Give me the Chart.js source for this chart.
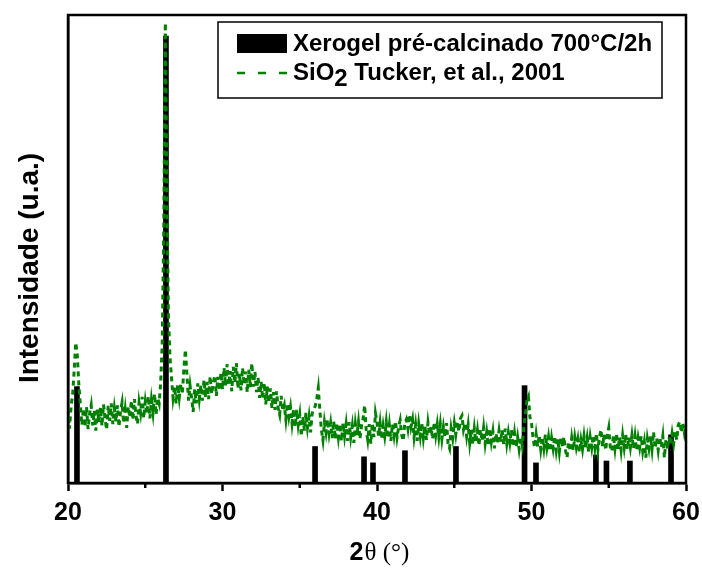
<!DOCTYPE html>
<html>
<head>
  <title>DRX - Xerogel pré-calcinado 700°C/2h</title>
  <style>
    body { margin: 0; background: #fff; }
    canvas { display: block; }
  </style>
</head>
<body>
  <canvas id="drx" width="702" height="572"></canvas>

  <script src="https://cdn.jsdelivr.net/npm/chart.js"></script>
  <script>
    // reference sticks: 2θ position and relative height
    const stickAngles  = [20.58, 26.34, 35.99, 39.16, 39.74, 41.81, 45.11, 49.55, 50.29, 54.17, 54.85, 56.37, 59.03];
    const stickHeights = [20.6, 95.5, 7.8, 5.6, 4.3, 6.9, 7.8, 20.8, 4.3, 6.0, 4.7, 4.7, 10.3];

    // measured scan, 0.1° steps starting at 20°
    const scanStart = 20;
    const scanStep = 0.1;
    const scanCounts = [
      15.8, 11.6, 16.4, 19.0, 24.0, 30.0, 27.5, 21.0, 16.8, 12.4, 15.9, 12.0, 16.2, 11.5, 14.8, 16.6, 12.3, 15.4, 11.2, 15.7,
      13.0, 16.1, 12.2, 16.8, 13.6, 11.4, 16.5, 13.3, 17.0, 12.6, 15.9, 13.1, 16.6, 12.0, 15.4, 17.2, 12.8, 15.6, 11.8, 16.3,
      14.0, 17.6, 13.5, 17.9, 14.4, 12.6, 17.2, 15.0, 18.4, 13.9, 17.3, 14.8, 18.5, 13.8, 17.7, 15.0, 19.0, 14.6, 18.2, 17.0,
      21.5, 30.0, 55.0, 98.3, 62.0, 36.0, 27.0, 22.5, 18.2, 20.6, 17.0, 21.0, 18.2, 21.2, 19.0, 24.5, 28.5, 23.0, 17.6, 20.8,
      18.2, 15.2, 20.0, 17.0, 21.3, 18.0, 20.9, 17.6, 22.0, 18.4, 21.6, 17.9, 22.8, 19.0, 21.4, 23.0, 18.6, 22.7, 19.8, 23.6,
      20.0, 24.6, 20.8, 25.4, 21.0, 23.9, 19.6, 24.8, 21.4, 25.6, 20.2, 23.4, 19.8, 24.6, 21.0, 23.8, 19.4, 24.2, 20.5, 25.6,
      20.6, 23.8, 19.4, 22.6, 18.2, 21.6, 18.0, 21.4, 16.8, 20.6, 17.2, 20.2, 16.0, 19.4, 15.6, 19.6, 16.0, 14.6, 18.6, 15.4,
      16.6, 13.6, 17.0, 14.2, 16.2, 12.8, 15.8, 12.0, 15.6, 12.4, 14.6, 10.0, 14.2, 11.2, 15.0, 11.8, 14.2, 10.8, 14.8, 15.8,
      16.4, 18.0, 20.3, 15.6, 11.4, 9.2, 13.0, 10.8, 13.6, 10.6, 12.8, 9.6, 13.2, 9.4, 12.8, 9.8, 12.6, 9.0, 12.8, 10.0,
      12.6, 9.0, 13.0, 9.8, 12.2, 8.6, 12.6, 10.2, 13.0, 9.4, 12.4, 13.8, 16.6, 11.4, 9.2, 12.6, 8.4, 12.8, 9.8, 14.9,
      13.0, 10.0, 12.8, 9.4, 12.2, 10.0, 13.0, 9.6, 12.4, 9.0, 12.6, 10.2, 13.2, 9.8, 12.0, 13.4, 10.2, 9.0, 12.8, 13.6,
      11.6, 14.6, 12.0, 13.6, 9.8, 12.4, 9.0, 12.6, 10.0, 12.8, 9.6, 12.2, 9.2, 12.9, 10.4, 12.0, 9.4, 13.0, 10.2, 12.6,
      9.8, 12.6, 9.4, 12.0, 9.8, 12.8, 8.4, 7.4, 11.6, 9.6, 12.8, 10.4, 13.0, 11.0, 13.8, 14.4, 11.4, 12.8, 10.0, 12.4,
      8.6, 11.4, 8.2, 11.6, 8.8, 11.2, 8.0, 11.4, 9.0, 11.8, 8.4, 10.8, 8.0, 11.6, 8.8, 11.0, 7.4, 10.6, 8.6, 11.2,
      8.8, 11.4, 8.2, 11.6, 8.4, 10.8, 8.6, 11.4, 7.8, 10.6, 7.6, 9.8, 7.2, 9.6, 8.0, 11.8, 14.5, 17.7, 18.5, 14.0,
      12.8, 9.6, 7.6, 10.4, 7.8, 10.2, 7.2, 9.8, 7.4, 10.4, 7.6, 9.8, 6.8, 9.6, 7.4, 10.0, 7.0, 9.4, 6.6, 9.6,
      7.8, 9.8, 7.0, 5.4, 8.8, 6.8, 9.6, 7.0, 9.8, 7.6, 9.4, 6.6, 9.2, 7.2, 10.0, 7.4, 9.6, 6.6, 9.8, 7.6,
      10.2, 7.6, 10.6, 7.2, 9.8, 11.4, 7.8, 10.4, 7.0, 10.0, 11.8, 7.6, 6.8, 10.2, 7.4, 10.6, 7.2, 9.8, 7.0, 10.2,
      7.6, 10.4, 7.2, 9.8, 7.6, 10.2, 7.4, 10.0, 7.0, 9.6, 7.6, 10.0, 6.8, 8.8, 5.4, 9.4, 7.4, 10.0, 7.2, 10.9,
      7.4, 9.6, 7.0, 9.8, 7.6, 10.0, 5.4, 9.2, 7.2, 9.8, 8.2, 10.6, 8.4, 11.0, 9.2, 12.4, 13.1, 10.8, 12.8, 10.6,
      12.2
    ];

    const xTicks = [20, 30, 40, 50, 60];
    const xMinorTicks = [25, 35, 45, 55];
    // "_" marks the next character as subscript in the legend
    const seriesLabels = ['Xerogel pré-calcinado 700°C/2h', 'SiO_2 Tucker, et al., 2001'];
    const xTitleParts = ['2', 'θ (°)'];
    const yTitle = 'Intensidade (u.a.)';

    const SANS = '"Liberation Sans", Arial, sans-serif';
    const SERIF = '"Liberation Serif", "Times New Roman", serif';
    const GREEN = '#008000';

    const sticks = stickAngles.map((a, i) => ({ x: a, y: stickHeights[i] }));
    const scan = scanCounts.map((c, i) => ({ x: +(scanStart + i * scanStep).toFixed(1), y: c }));

    // text with "_x" subscripts
    function drawRich(ctx, text, x, y) {
      const parts = text.split(/_(.)/);
      parts.forEach((p, i) => {
        const sub = i % 2 === 1;
        ctx.fillText(p, x, sub ? y + 6 : y);
        x += ctx.measureText(p).width;
      });
    }

    const extras = {
      id: 'extras',
      afterDraw(chart) {
        const { ctx, chartArea: a, scales: { x } } = chart;
        ctx.save();

        // frame + minor ticks
        ctx.strokeStyle = '#000';
        ctx.lineWidth = 2.5;
        ctx.strokeRect(a.left, a.top, a.right - a.left, a.bottom - a.top);
        xMinorTicks.forEach(v => {
          const px = x.getPixelForValue(v);
          ctx.beginPath();
          ctx.moveTo(px, a.bottom);
          ctx.lineTo(px, a.bottom + 5);
          ctx.stroke();
        });

        // legend
        const bx = 218, by = 22, bw = 444, bh = 76;
        ctx.fillStyle = '#fff';
        ctx.fillRect(bx, by, bw, bh);
        ctx.lineWidth = 1.5;
        ctx.strokeRect(bx, by, bw, bh);

        ctx.font = 'bold 24px ' + SANS;
        ctx.textBaseline = 'middle';
        ctx.fillStyle = '#000';
        ctx.fillRect(bx + 19, by + 12, 50, 19);
        drawRich(ctx, seriesLabels[0], bx + 75, by + 22);

        ctx.strokeStyle = GREEN;
        ctx.lineWidth = 2.5;
        ctx.setLineDash([8, 13]);
        ctx.beginPath();
        ctx.moveTo(bx + 19, by + 51);
        ctx.lineTo(bx + 69, by + 51);
        ctx.stroke();
        ctx.setLineDash([]);
        drawRich(ctx, seriesLabels[1], bx + 75, by + 51);

        // y axis title
        ctx.save();
        ctx.translate(30, 268);
        ctx.rotate(-Math.PI / 2);
        ctx.textAlign = 'center';
        ctx.font = 'bold 28px ' + SANS;
        ctx.fillText(yTitle, 0, 0);
        ctx.restore();

        // x axis title: bold "2" + serif theta
        ctx.font = 'bold 25px ' + SANS;
        const w1 = ctx.measureText(xTitleParts[0]).width;
        ctx.font = '25px ' + SERIF;
        const w2 = ctx.measureText(xTitleParts[1]).width;
        const tx = (a.left + a.right) / 2 + 2 - (w1 + w2) / 2;
        const ty = 553;
        ctx.font = 'bold 25px ' + SANS;
        ctx.fillText(xTitleParts[0], tx, ty);
        ctx.font = '25px ' + SERIF;
        ctx.fillText(xTitleParts[1], tx + w1 + 1, ty);

        ctx.restore();
      }
    };

    new Chart(document.getElementById('drx'), {
      data: {
        datasets: [
          {
            type: 'line',
            label: seriesLabels[1].replace('_', ''),
            data: scan,
            borderColor: GREEN,
            borderWidth: 3,
            borderDash: [5, 4],
            pointRadius: 0,
            tension: 0,
            order: 0
          },
          {
            type: 'bar',
            label: seriesLabels[0],
            data: sticks,
            backgroundColor: '#000',
            barThickness: 5,
            order: 1
          }
        ]
      },
      options: {
        responsive: false,
        animation: false,
        layout: { padding: { top: 15, right: 16, left: 0, bottom: 0 } },
        plugins: { legend: { display: false }, tooltip: { enabled: false } },
        scales: {
          x: {
            type: 'linear',
            min: 20,
            max: 60,
            offset: false,
            afterBuildTicks: s => { s.ticks = xTicks.map(v => ({ value: v })); },
            afterFit: s => { s.height = 89; s.paddingLeft = 0; s.paddingRight = 0; },
            grid: { display: true, drawOnChartArea: false, offset: false, tickLength: 8, tickWidth: 2.5, tickColor: '#000' },
            border: { display: true, color: '#000', width: 2.5 },
            ticks: { color: '#000', font: { family: SANS, size: 25, weight: 'bold' }, padding: 7, maxRotation: 0 }
          },
          y: {
            min: 0,
            max: 100,
            afterFit: s => { s.width = 68; },
            grid: { display: false },
            border: { display: true, color: '#000', width: 2.5 },
            ticks: { display: false }
          }
        }
      },
      plugins: [extras]
    });
  </script>
</body>
</html>
